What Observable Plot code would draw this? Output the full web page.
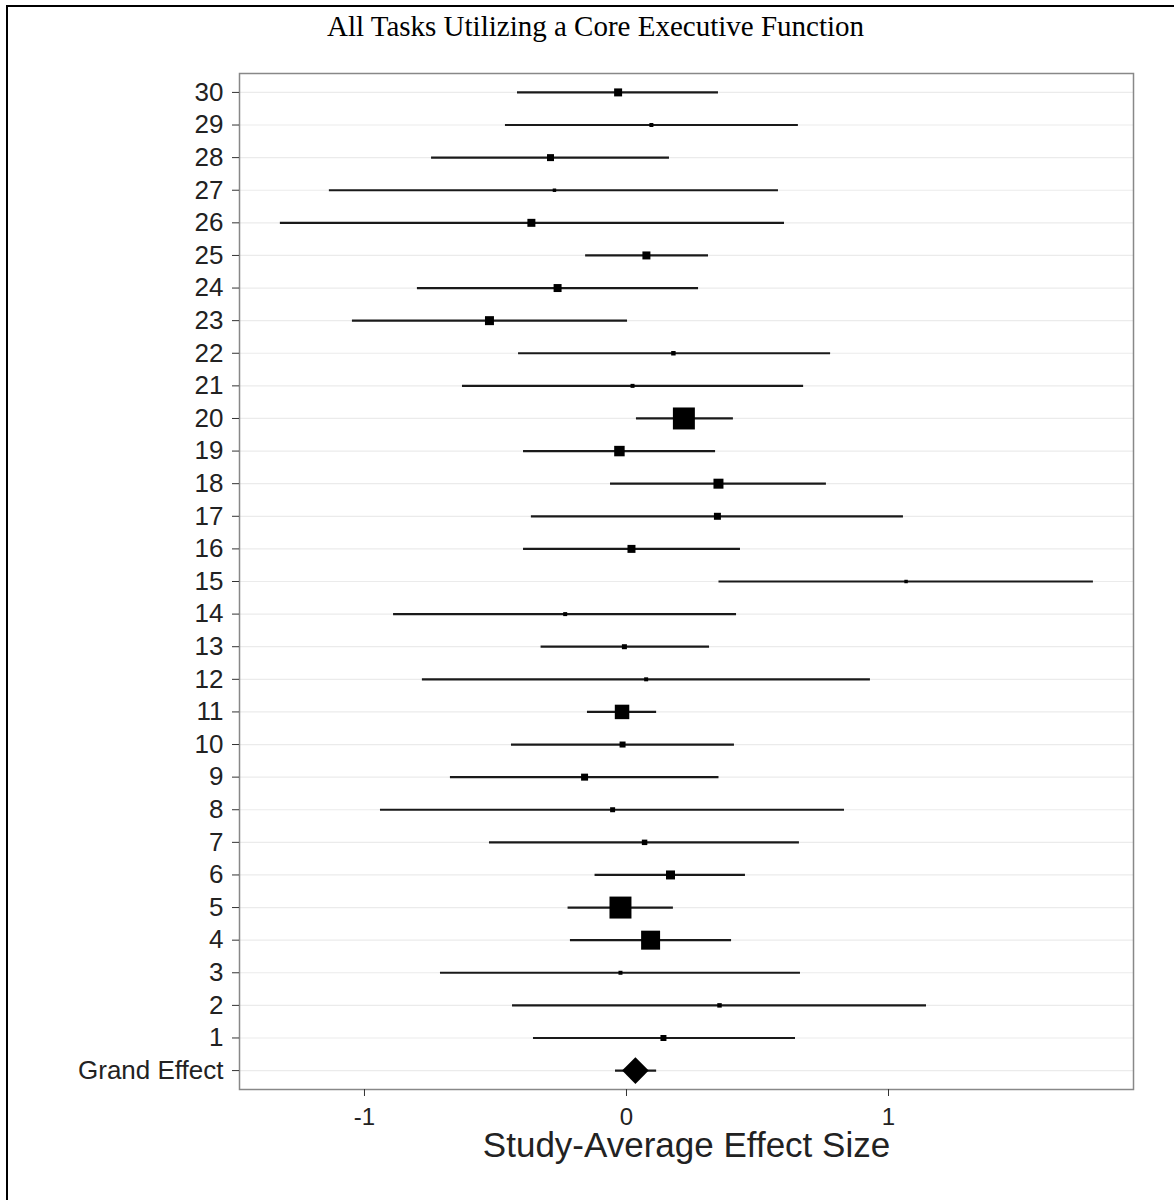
<!DOCTYPE html>
<html>
<head>
<meta charset="utf-8">
<script src="https://cdn.jsdelivr.net/npm/d3@7"></script>
<script src="https://cdn.jsdelivr.net/npm/@observablehq/plot@0.6"></script>
<style>
  html, body { margin: 0; padding: 0; background: #fff; }
  body { width: 1174px; height: 1200px; position: relative; overflow: hidden; }
  #outer { position: absolute; left: 6px; top: 5px; width: 1300px; height: 1300px; z-index: 10;
           border-left: 2px solid #000; border-top: 2px solid #000; pointer-events: none; }
  #title { position: absolute; left: 0; top: 0; width: 1191px; height: 50px; line-height: 52px;
           text-align: center; font-family: "Liberation Serif", "Times New Roman", serif;
           font-size: 29px; color: #000; }
  #chart { position: absolute; left: 0; top: 50px; }
  #chart svg g[aria-label="x-axis label"] text { font-size: 35px; }
</style>
</head>
<body>
<div id="title">All Tasks Utilizing a Core Executive Function</div>
<div id="chart"></div>
<div id="outer"></div>
<script>
// Studies listed top to bottom
const studies  = ["30","29","28","27","26","25","24","23","22","21","20","19","18","17","16",
                  "15","14","13","12","11","10","9","8","7","6","5","4","3","2","1"];
const estimate = [-0.032, 0.095, -0.290, -0.275, -0.363, 0.076, -0.263, -0.523, 0.179, 0.023,
                   0.219, -0.027, 0.351, 0.347, 0.019, 1.067, -0.234, -0.008, 0.075, -0.017,
                  -0.015, -0.160, -0.053, 0.069, 0.168, -0.023, 0.092, -0.023, 0.355, 0.141];
const lower    = [-0.416, -0.462, -0.744, -1.134, -1.321, -0.156, -0.798, -1.046, -0.412, -0.626,
                   0.038, -0.393, -0.061, -0.363, -0.393, 0.353, -0.889, -0.326, -0.779, -0.149,
                  -0.439, -0.672, -0.939, -0.523, -0.120, -0.223, -0.214, -0.710, -0.435, -0.355];
const upper    = [0.351, 0.656, 0.164, 0.580, 0.603, 0.313, 0.275, 0.004, 0.779, 0.676,
                  0.408, 0.340, 0.763, 1.057, 0.435, 1.782, 0.420, 0.317, 0.931, 0.115,
                  0.412, 0.353, 0.832, 0.660, 0.454, 0.179, 0.401, 0.664, 1.145, 0.645];
const weight   = [6.4, 1.6, 4.9, 1.2, 6.4, 6.4, 6.4, 8.1, 2.0, 1.6,
                  48.4, 11.0, 10.0, 4.9, 6.4, 1.2, 1.6, 2.5, 1.6, 21.0,
                  3.6, 4.9, 2.5, 3.0, 8.1, 48.4, 36.1, 1.6, 2.0, 3.6];

const grandLabel = "Grand Effect";
const grandEstimate = 0.034;
const grandLower = -0.042;
const grandUpper = 0.115;

const xTicks = [-1, 0, 1];
const xTickLabels = ["-1", "0", "1"];
const xTitle = "Study-Average Effect Size";

const rows = studies.map((s, i) => ({label: s, estimate: estimate[i], lower: lower[i], upper: upper[i], weight: weight[i]}));
const grand = [{label: grandLabel, estimate: grandEstimate, lower: grandLower, upper: grandUpper}];
const yDomain = [...studies, grandLabel];

const chart = Plot.plot({
  width: 1174,
  height: 1150,
  marginTop: 23,
  marginBottom: 111,
  marginLeft: 239,
  marginRight: 41,
  style: {fontFamily: "'Liberation Sans', Arial, sans-serif", fontSize: "26px", color: "#222", background: "#fff"},
  x: {domain: [-1.477, 1.935]},
  y: {type: "point", domain: yDomain, padding: 0.58, round: false},
  r: {type: "sqrt", domain: [0, 48.4], range: [0, 12.4]},
  marks: [
    Plot.gridY({stroke: "#ebebeb", strokeOpacity: 1, strokeWidth: 1.2}),
    Plot.ruleY(rows, {y: "label", x1: "lower", x2: "upper", stroke: "#1a1a1a", strokeWidth: 2.2}),
    Plot.dot(rows, {x: "estimate", y: "label", r: "weight", symbol: "square", fill: "#000"}),
    Plot.ruleY(grand, {y: "label", x1: "lower", x2: "upper", stroke: "#1a1a1a", strokeWidth: 2.2}),
    Plot.dot(grand, {x: "estimate", y: "label", r: 12, symbol: "diamond2", fill: "#000"}),
    Plot.frame({stroke: "#888", strokeWidth: 1.5}),
    Plot.axisY({tickSize: 7, tickPadding: 9, label: null, stroke: "#333"}),
    Plot.axisX({ticks: xTicks, tickFormat: (d) => xTickLabels[xTicks.indexOf(d)], tickSize: 7, tickPadding: 11,
                fontSize: 24, stroke: "#333", label: null}),
    Plot.axisX({ticks: [], tickSize: 0, label: xTitle, labelAnchor: "center", labelArrow: "none",
                labelOffset: 67, fontSize: 35})
  ]
});
document.getElementById("chart").appendChild(chart);
</script>
</body>
</html>
